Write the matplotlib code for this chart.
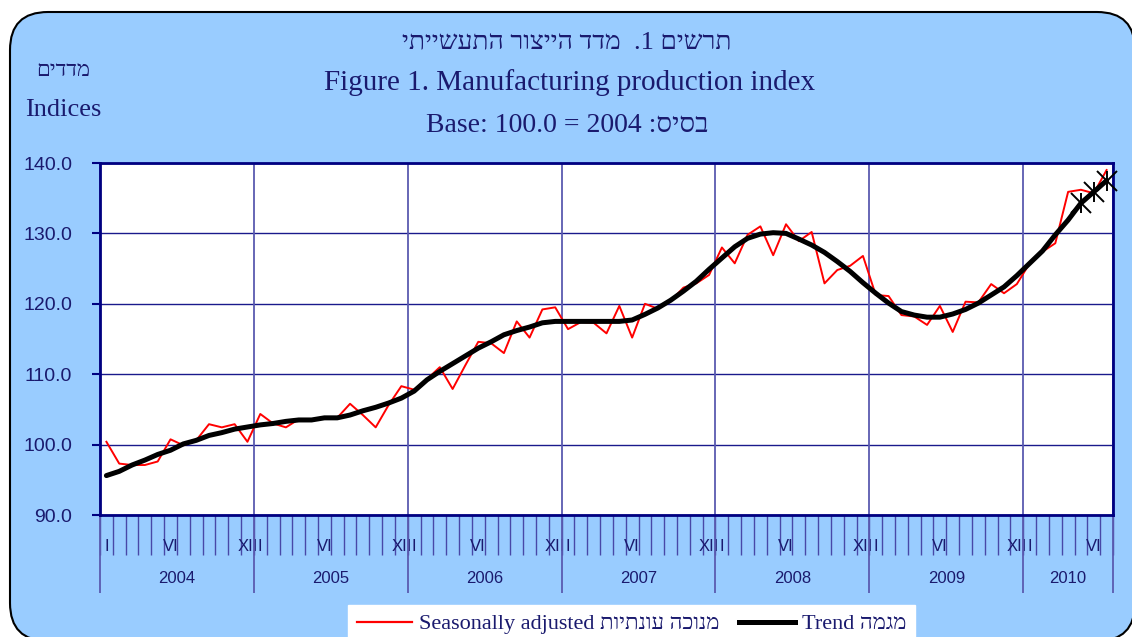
import matplotlib.pyplot as plt
import numpy as np
from matplotlib.patches import FancyBboxPatch
from matplotlib.transforms import IdentityTransform
from matplotlib.lines import Line2D

# monthly values, Jan 2004 .. Jul 2010
seasonal = [100.4, 97.3, 97.1, 97.1, 97.6, 100.75, 99.9, 100.6, 102.9, 102.45, 102.9, 100.4,
            104.35, 103.0, 102.45, 103.6, 103.6, 103.8, 103.8, 105.8, 104.2, 102.45, 105.6, 108.3,
            107.8, 109.3, 111.0, 107.9, 111.3, 114.6, 114.4, 113.0, 117.5, 115.2, 119.2, 119.5,
            116.4, 117.4, 117.3, 115.8, 119.7, 115.2, 120.0, 119.3, 120.4, 122.3, 122.9, 124.1,
            128.0, 125.75, 129.8, 131.0, 126.9, 131.3, 128.9, 130.2, 122.9, 124.8, 125.4, 126.8,
            121.25, 121.1, 118.4, 118.2, 117.0, 119.7, 116.0, 120.3, 120.2, 122.8, 121.5, 122.8,
            125.75, 127.4, 128.6, 135.9, 136.2, 135.7, 139.0]
trend = [95.6, 96.2, 97.1, 97.8, 98.6, 99.2, 100.1, 100.6, 101.3, 101.7, 102.2, 102.5,
         102.8, 103.0, 103.3, 103.5, 103.5, 103.8, 103.8, 104.2, 104.8, 105.3, 105.9, 106.6,
         107.6, 109.2, 110.4, 111.5, 112.6, 113.7, 114.6, 115.6, 116.2, 116.7, 117.3, 117.5,
         117.5, 117.5, 117.5, 117.5, 117.5, 117.7, 118.5, 119.4, 120.5, 121.8, 123.2, 124.9,
         126.5, 128.1, 129.3, 129.9, 130.1, 130.0, 129.2, 128.35, 127.3, 126.0, 124.6, 123.0,
         121.5, 120.1, 118.9, 118.4, 118.1, 118.1, 118.55, 119.2, 120.1, 121.25, 122.4, 124.0,
         125.75, 127.5, 129.8, 131.9, 134.3, 135.9, 137.5]
years = ['2004', '2005', '2006', '2007', '2008', '2009', '2010']
months_in_year = [12, 12, 12, 12, 12, 12, 7]
roman = {1: 'I', 6: 'VI', 12: 'XII'}
n_estimated = 3  # last trend points marked as estimates

# hebrew strings are typed in visual (left-to-right) order, matplotlib has no bidi
title_he = 'יתיישעתה רוצייה דדמ  .1 םישרת'
title_en = 'Figure 1. Manufacturing production index'
base_txt = 'Base: 100.0 = 2004 :סיסב'
ylab_he = 'םידדמ'
ylab_en = 'Indices'
lab_seasonal = 'Seasonally adjusted תויתנוע הכונמ'
lab_trend = 'Trend המגמ'

navy = '#1a1a6e'
serif = ['Liberation Serif', 'DejaVu Sans']

fig = plt.figure(figsize=(11.32, 6.37), dpi=100)
fig.patch.set_facecolor('white')

# rounded light-blue panel
panel = FancyBboxPatch((10, -4), 1125, 629, boxstyle='round,pad=0,rounding_size=38',
                       transform=IdentityTransform(), facecolor='#99ccff',
                       edgecolor='black', linewidth=1.5, zorder=-10)
fig.add_artist(panel)

ax = fig.add_axes([100 / 1132, 1 - 515 / 637, 1013 / 1132, 352 / 637])
ax.set_facecolor('white')

n = len(seasonal)
x = np.arange(n) + 0.5
ax.plot(x, seasonal, color='red', linewidth=1.4, zorder=3)
ax.plot(x, trend, color='black', linewidth=3.6, zorder=4, solid_capstyle='round')
ax.plot(x[-n_estimated:], trend[-n_estimated:], linestyle='none', marker='x',
        markersize=14, markeredgewidth=1.4, color='black', zorder=5, clip_on=False)
ax.plot(x[-n_estimated:], trend[-n_estimated:], linestyle='none', marker='|',
        markersize=14, markeredgewidth=1.4, color='black', zorder=5, clip_on=False)

ax.set_xlim(0, n)
ax.set_ylim(90, 140)
ax.set_yticks(np.arange(90, 141, 10))
ax.set_yticklabels([f'{v:.1f}' for v in np.arange(90, 141, 10)])
ax.grid(axis='y', color='#1a1a8c', linewidth=1.0)
ax.set_axisbelow(True)

for s in ax.spines.values():
    s.set_color('#000080')
    s.set_linewidth(2)

ax.tick_params(axis='y', direction='out', length=6, width=1.5, color='#000080',
               labelsize=14, labelcolor=navy, pad=14)
for lab in ax.get_yticklabels():
    lab.set_fontfamily('Liberation Sans')

# month ticks
ax.set_xticks(np.arange(0, n + 1))
ax.set_xticklabels([])
ax.tick_params(axis='x', which='major', direction='out', length=29, width=1.0,
               color='#4848a8')

# roman month labels as minor ticks
pos, labs = [], []
start = 0
for m in months_in_year:
    for k in range(1, m + 1):
        if k in roman:
            pos.append(start + k - 0.5)
            labs.append(roman[k])
    start += m
ax.set_xticks(pos, minor=True)
ax.set_xticklabels(labs, minor=True, fontsize=12, color=navy, family='Liberation Sans')
ax.tick_params(axis='x', which='minor', length=0, pad=17)

# year separators and year labels
bounds = np.concatenate([[0], np.cumsum(months_in_year)])
xt = ax.get_xaxis_transform()
ax.vlines(bounds, -0.222, 1, transform=xt, colors='#5a5ab0', linewidth=1.3,
          clip_on=False, zorder=1)
for i, y in enumerate(years):
    ax.text((bounds[i] + bounds[i + 1]) / 2, -0.179, y, transform=xt, ha='center',
            va='center', fontsize=12, color=navy, family='Liberation Sans')

# titles
fig.text(0.501, 1 - 42 / 637, title_he, ha='center', va='center',
         fontsize=19, color=navy, family=serif)
fig.text(0.503, 1 - 83 / 637, title_en, ha='center',
         va='center', fontsize=21, color=navy, family=serif)
fig.text(0.501, 1 - 125 / 637, base_txt, ha='center', va='center',
         fontsize=20, color=navy, family=serif)
fig.text(63 / 1132, 1 - 72 / 637, ylab_he, ha='center', va='center',
         fontsize=16, color=navy, family=serif)
fig.text(63 / 1132, 1 - 110 / 637, ylab_en, ha='center', va='center',
         fontsize=19, color=navy, family=serif)

handles = [Line2D([], [], color='red', linewidth=1.6),
           Line2D([], [], color='black', linewidth=3.6)]
leg = fig.legend(handles, [lab_seasonal, lab_trend],
                 loc='upper left', bbox_to_anchor=(348 / 1132, 1 - 605 / 637),
                 ncol=2, frameon=True, fancybox=False, framealpha=1,
                 edgecolor='white', facecolor='white', handlelength=2.5,
                 handletextpad=0.3, columnspacing=0.9, borderpad=0.4,
                 prop={'family': serif, 'size': 16}, borderaxespad=0)
for t in leg.get_texts():
    t.set_color(navy)

fig.savefig('out.png', dpi=100)
